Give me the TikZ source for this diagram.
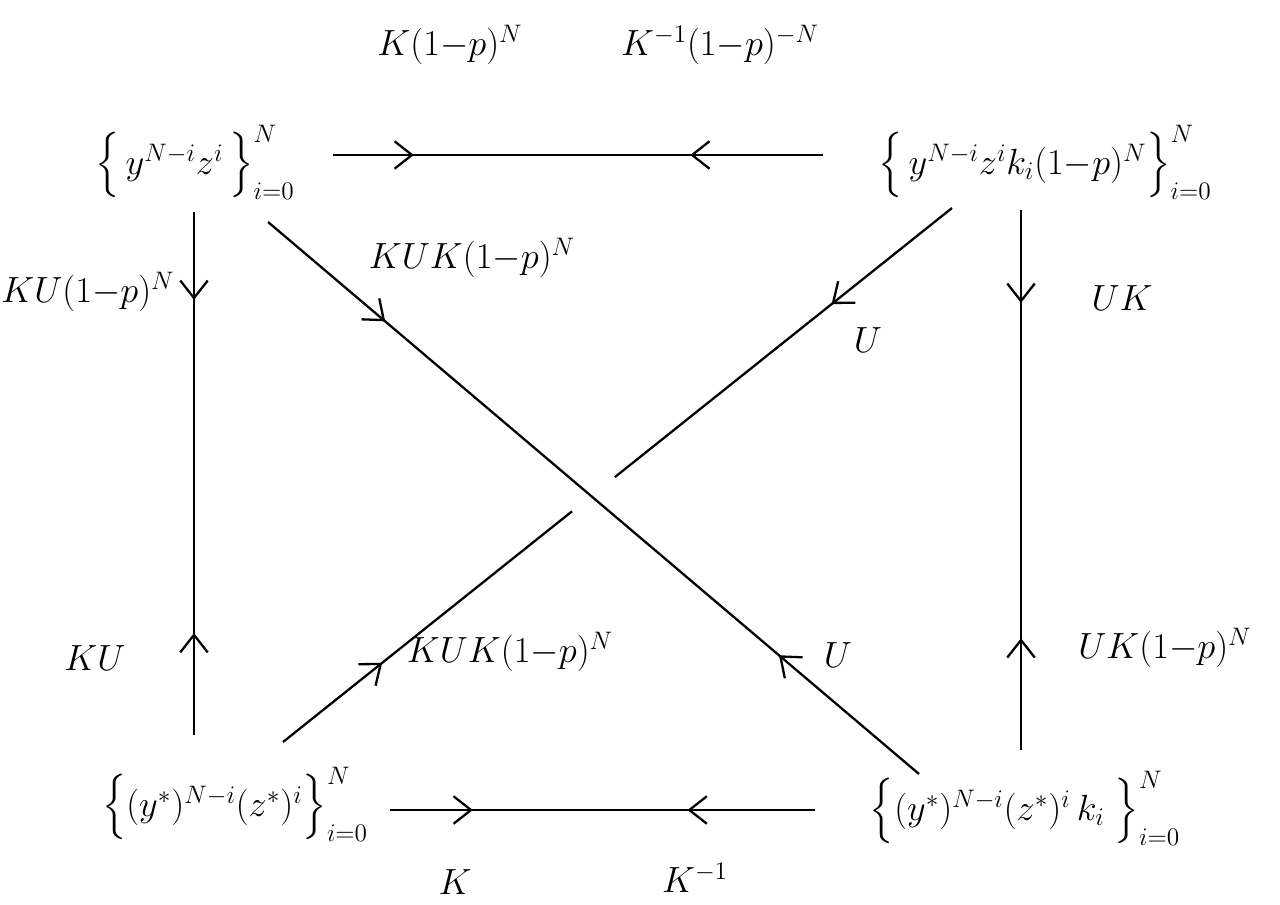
\documentclass[tikz,border=0pt]{standalone}
\usepackage{amsmath}
\usetikzlibrary{arrows.meta,decorations.markings,calc}
\begin{document}
\begin{tikzpicture}[x=0.02cm,y=-0.02cm,line width=1.3pt,
  lbl/.style={font=\fontsize{21}{25}\selectfont},
  obj/.style={font=\fontsize{22}{26}\selectfont,inner sep=2pt},
  barb/.tip={Straight Barb[length=3.5mm,width=5.5mm]},
  twoway/.style 2 args={postaction={decorate},decoration={markings,
    mark=at position #1 with {\arrow{barb}},
    mark=at position #2 with {\arrowreversed{barb}}}},
  fwd/.style={postaction={decorate},decoration={markings,
    mark=at position #1 with {\arrow{barb}}}},
  bwd/.style={postaction={decorate},decoration={markings,
    mark=at position #1 with {\arrowreversed{barb}}}}]
  \useasboundingbox[fill=white] (0,0) rectangle (1280,905);
  \node[obj] (tl) at (195,162) {$\Bigl\{\,y^{N-i}z^{i}\,\Bigr\}_{i=0}^{N}$};
  \node[obj] (tr) at (1045,162) {$\Bigl\{\,y^{N-i}z^{i}k_{i}(1{-}p)^{N}\Bigr\}_{i=0}^{N}$};
  \node[obj] (bl) at (235,804) {$\Bigl\{(y^{*})^{N-i}(z^{*})^{i}\Bigr\}_{i=0}^{N}$};
  \node[obj] (br) at (1025,808) {$\Bigl\{(y^{*})^{N-i}(z^{*})^{i}\,k_{i}\;\Bigr\}_{i=0}^{N}$};
  \coordinate (trd) at ([shift={(-93,46)}]tr.center);
  \coordinate (bld) at ([shift={(48,-62)}]bl.center);
  \coordinate (g1) at ($(trd)!0.504!(bld)$);
  \coordinate (g2) at ($(trd)!0.568!(bld)$);
  \draw[twoway={0.165}{0.729}] ([shift={(138,-7)}]tl.center) -- ([shift={(-222,-7)}]tr.center);
  \draw[twoway={0.195}{0.70}] ([shift={(155,6)}]bl.center) -- ([shift={(-210,2)}]br.center);
  \draw[twoway={0.168}{0.805}] ([shift={(-1,50)}]tl.center) -- ([shift={(-41,-69)}]bl.center);
  \draw[twoway={0.172}{0.793}] ([shift={(-24,48)}]tr.center) -- ([shift={(-4,-58)}]br.center);
  \draw[twoway={0.18}{0.785}] ([shift={(73,60)}]tl.center) -- ([shift={(-106,-34)}]br.center);
  \draw[fwd=0.357] (trd) -- (g1);
  \draw[bwd=0.657] (g2) -- (bld);
  \node[lbl] (ktop) at (450,45) {$K(1{-}p)^{N}$};
  \node[lbl] (kinvtop) at (720,45) {$K^{-1}(1{-}p)^{-N}$};
  \node[lbl] (kuleft) at (88,292) {$KU(1{-}p)^{N}$};
  \node[lbl] (ukright) at (1122,298) {$UK$};
  \node[lbl] (kukup) at (472,258) {$KUK(1{-}p)^{N}$};
  \node[lbl] (uup) at (868,340) {$U$};
  \node[lbl] (kuleft2) at (95,658) {$KU$};
  \node[lbl] (ukright2) at (1165,648) {$UK(1{-}p)^{N}$};
  \node[lbl] (ulow) at (838,655) {$U$};
  \node[lbl] (kuklow) at (510,652) {$KUK(1{-}p)^{N}$};
  \node[lbl] (kbot) at (455,882) {$K$};
  \node[lbl] (kinvbot) at (695,878) {$K^{-1}$};
\end{tikzpicture}
\end{document}
